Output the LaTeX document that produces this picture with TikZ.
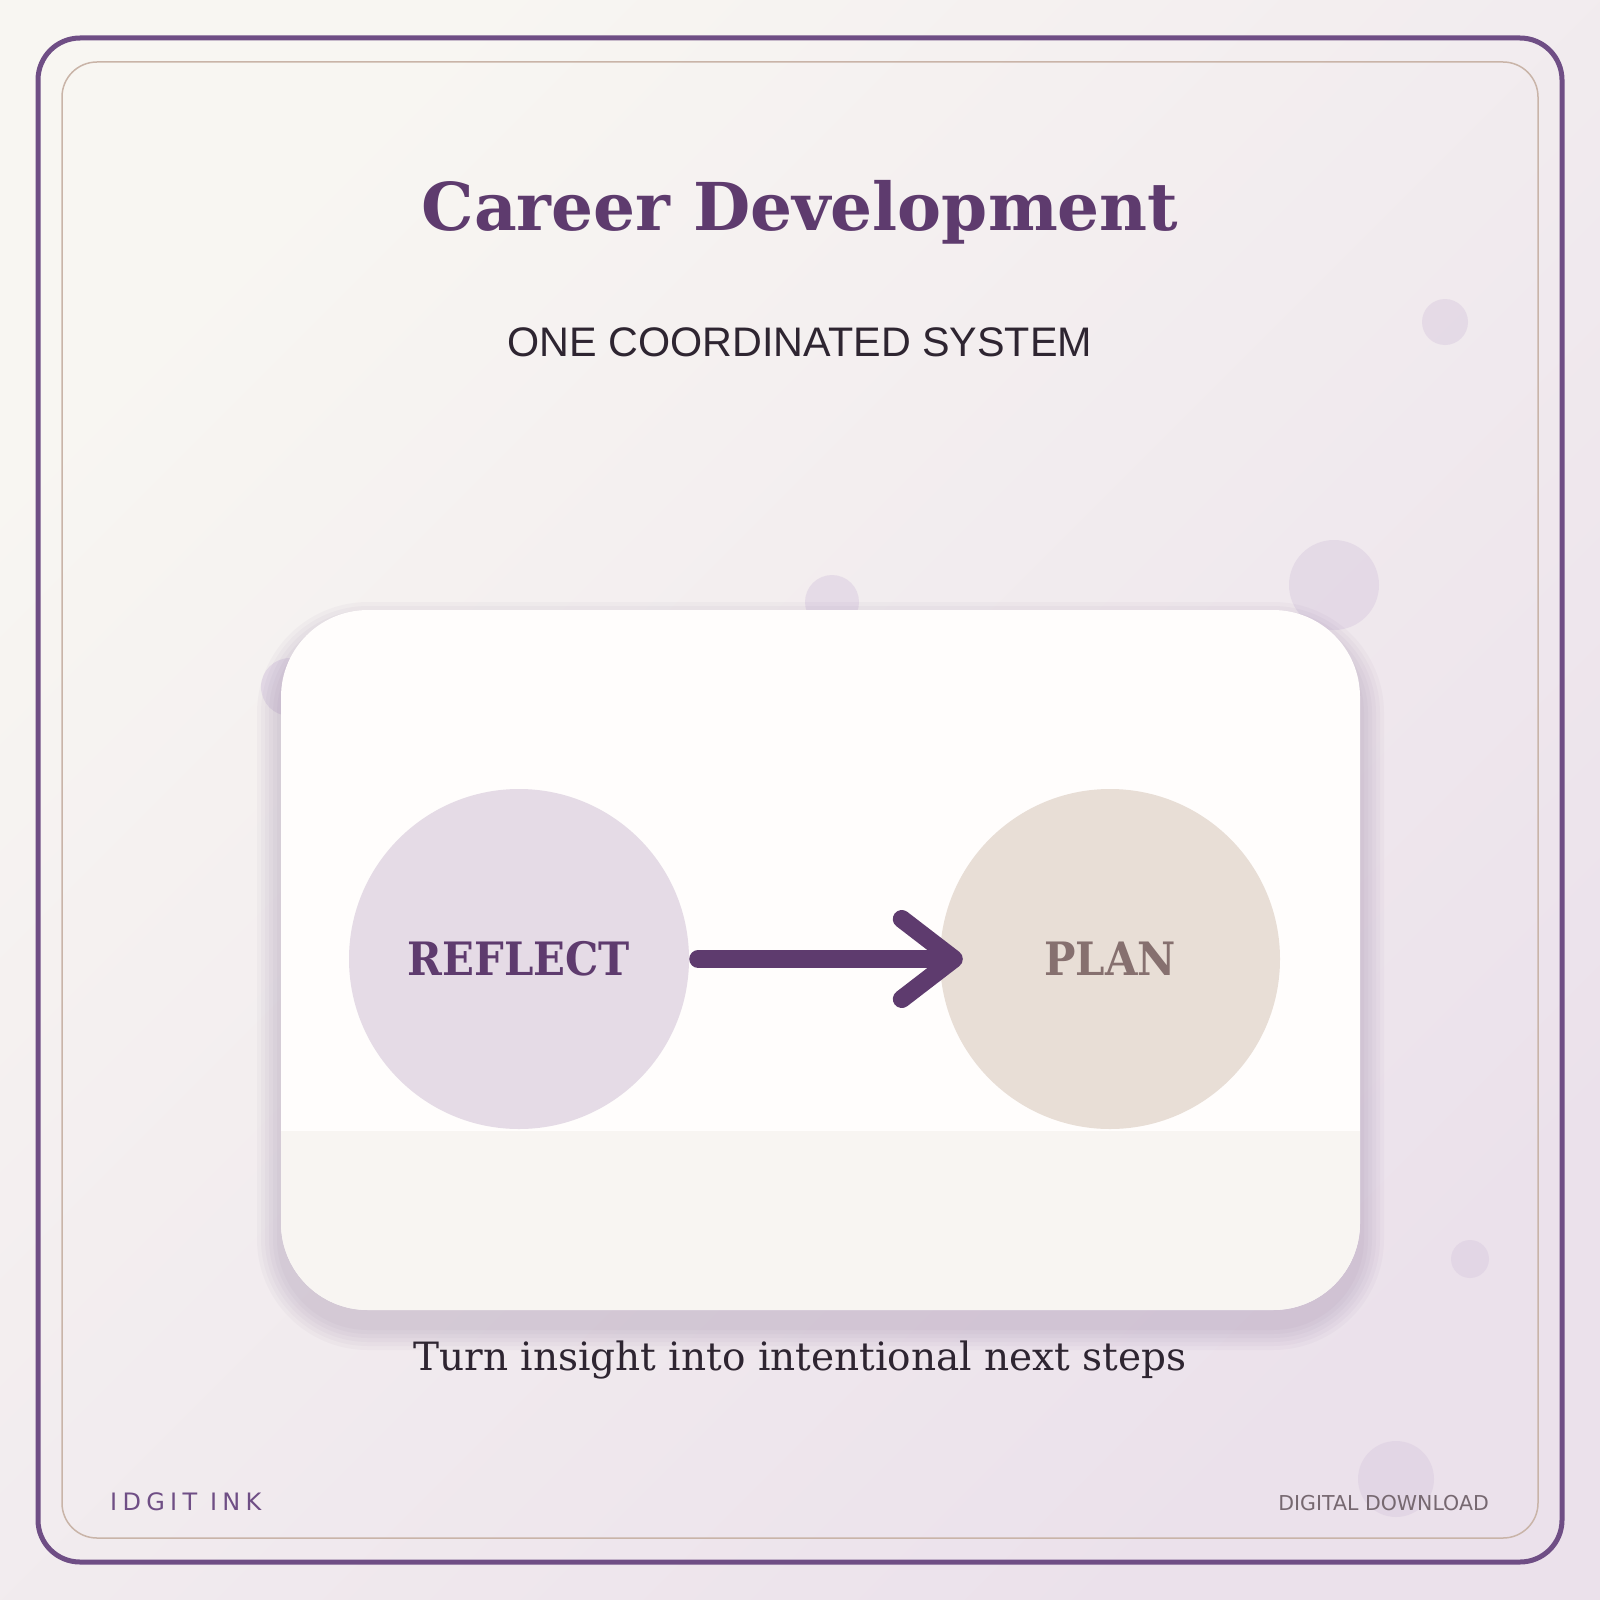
\documentclass[tikz,border=0pt]{standalone}
\usepackage{fontspec}
\usetikzlibrary{arrows.meta}

\newfontfamily\headfont{DejaVu Serif}
\newfontfamily\labelfont[FakeStretch=0.91]{DejaVu Serif}
\newfontfamily\subfont{Liberation Sans}
\newfontfamily\brandfont[LetterSpace=22]{DejaVu Sans}
\newfontfamily\smallfont{DejaVu Sans}

\definecolor{plum}{HTML}{5E3B6E}
\definecolor{frameplum}{HTML}{6F4E85}
\definecolor{sand}{HTML}{C9B4A8}
\definecolor{ink}{HTML}{2E2531}
\definecolor{bgtop}{HTML}{F8F6F2}
\definecolor{bgbot}{HTML}{EBE1EB}
\definecolor{cardtop}{HTML}{FFFDFC}
\definecolor{cardbot}{HTML}{F8F5F2}
\definecolor{lilac}{HTML}{E5DBE6}
\definecolor{linen}{HTML}{E8DED6}
\definecolor{taupe}{HTML}{86706F}
\definecolor{mist}{HTML}{DDD0E2}
\definecolor{shade}{HTML}{7E6590}
\definecolor{greytext}{HTML}{766870}

\begin{document}
\begin{tikzpicture}[
    x=1pt, y=-1pt,
    bubble/.style={fill=mist, opacity=0.6},
    stepcircle/.style={circle, minimum size=340pt, inner sep=0pt},
    shadowlayer/.style={fill=shade, opacity=0.045},
    flowarrow/.style={draw=plum, line width=18pt, line cap=round,
        -{Straight Barb[length=52pt, width=80pt, round]}}
]
\useasboundingbox (0,0) rectangle (1600,1600);

% background
\shade[shading=axis, top color=bgtop, bottom color=bgbot, shading angle=45]
    (0,0) rectangle (1600,1600);

% frames
\draw[frameplum, line width=5pt, rounded corners=42pt] (38,38) rectangle (1562,1562);
\draw[sand, line width=1.5pt, rounded corners=35pt] (62,62) rectangle (1538,1538);

% floating bubbles
\fill[bubble] (1445,322) circle (23);
\fill[bubble] (1334,585) circle (45);
\fill[bubble] (832,602) circle (27);
\fill[bubble] (290,687) circle (29);
\fill[bubble] (1470,1259) circle (19);
\fill[bubble] (1396,1479) circle (38);

% card shadow
\fill[shadowlayer, rounded corners=111pt] (257,602) rectangle (1384,1350);
\fill[shadowlayer, rounded corners=107pt] (261,606) rectangle (1380,1346);
\fill[shadowlayer, rounded corners=103pt] (265,610) rectangle (1376,1342);
\fill[shadowlayer, rounded corners=99pt] (269,614) rectangle (1372,1338);
\fill[shadowlayer, rounded corners=95pt] (273,618) rectangle (1368,1334);
\fill[shadowlayer, rounded corners=91pt] (277,622) rectangle (1364,1330);

% card
\fill[cardtop, rounded corners=87pt] (281,610) rectangle (1360,1310);
\begin{scope}
    \clip[rounded corners=87pt] (281,610) rectangle (1360,1310);
    \fill[cardbot] (281,1131) rectangle (1360,1310);
\end{scope}

% titles
\node[text=plum, font=\headfont\bfseries\fontsize{66}{70}\selectfont, anchor=base]
    (title) at (800,230) {Career Development};
\node[text=ink, font=\subfont\fontsize{41.3}{45}\selectfont, anchor=base]
    (subtitle) at (800,356) {ONE COORDINATED SYSTEM};

% steps
\node[stepcircle, fill=lilac, text=plum, font=\labelfont\bfseries\fontsize{46}{50}\selectfont]
    (reflect) at (519,959) {REFLECT};
\node[stepcircle, fill=linen, text=taupe, font=\labelfont\bfseries\fontsize{46}{50}\selectfont]
    (plan) at (1110,959) {PLAN};
\draw[flowarrow] ([xshift=9pt]reflect.east) -- ([xshift=23pt]plan.west);

% caption and footer
\node[text=ink, font=\headfont\fontsize{39}{43}\selectfont, anchor=base]
    (caption) at (800,1370) {Turn insight into intentional next steps};
\node[text=frameplum, font=\brandfont\fontsize{24}{28}\selectfont, anchor=base west, inner sep=0pt]
    (brand) at (110,1510) {IDGIT INK};
\node[text=greytext, font=\smallfont\fontsize{20.5}{24}\selectfont, anchor=base east, inner sep=0pt]
    (download) at (1489,1510) {DIGITAL DOWNLOAD};

\end{tikzpicture}
\end{document}
